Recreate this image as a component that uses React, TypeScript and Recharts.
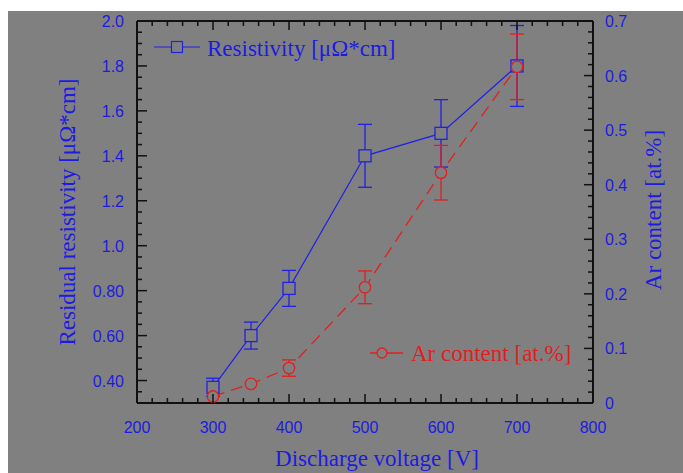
import React from "react"
import { ErrorBar, Line, LineChart, XAxis, YAxis } from "recharts"

// discharge voltage [V]
const voltage = [300, 350, 400, 500, 600, 700]
// residual resistivity [µΩ*cm] and its error
const resistivity = [0.37, 0.6, 0.81, 1.4, 1.5, 1.8]
const resistivityErr = [0.04, 0.06, 0.08, 0.14, 0.15, 0.18]
// Ar content [at.%] and its error
const arContent = [0.012, 0.035, 0.064, 0.212, 0.422, 0.616]
const arContentErr = [0, 0, 0.015, 0.03, 0.05, 0.06]

const xTicks = [
  200, 220, 240, 260, 280, 300, 320, 340, 360, 380, 400, 420, 440, 460, 480, 500, 520, 540, 560,
  580, 600, 620, 640, 660, 680, 700, 720, 740, 760, 780, 800,
]
const xMajor = [200, 300, 400, 500, 600, 700, 800]

const leftTicks = [
  0.3, 0.35, 0.4, 0.45, 0.5, 0.55, 0.6, 0.65, 0.7, 0.75, 0.8, 0.85, 0.9, 0.95, 1.0, 1.05, 1.1, 1.15,
  1.2, 1.25, 1.3, 1.35, 1.4, 1.45, 1.5, 1.55, 1.6, 1.65, 1.7, 1.75, 1.8, 1.85, 1.9, 1.95, 2.0,
]
const leftMajor = [0.4, 0.6, 0.8, 1.0, 1.2, 1.4, 1.6, 1.8, 2.0]
const leftMajorText = ["0.40", "0.60", "0.80", "1.0", "1.2", "1.4", "1.6", "1.8", "2.0"]

const rightTicks = [
  0, 0.02, 0.04, 0.06, 0.08, 0.1, 0.12, 0.14, 0.16, 0.18, 0.2, 0.22, 0.24, 0.26, 0.28, 0.3, 0.32,
  0.34, 0.36, 0.38, 0.4, 0.42, 0.44, 0.46, 0.48, 0.5, 0.52, 0.54, 0.56, 0.58, 0.6, 0.62, 0.64, 0.66,
  0.68, 0.7,
]
const rightMajor = [0, 0.1, 0.2, 0.3, 0.4, 0.5, 0.6, 0.7]
const rightMajorText = ["0", "0.1", "0.2", "0.3", "0.4", "0.5", "0.6", "0.7"]

const rows = voltage.map((v, i) => ({
  v,
  res: resistivity[i],
  resErr: resistivityErr[i],
  ar: arContent[i],
  arErr: arContentErr[i],
}))

const BG = "#808080"
const BLUE = "#2020e6"
const BLUE_TEXT = "#1c1ce0"
const RED = "#e41e1e"
const AXIS = "#111"
const SANS = "'Liberation Sans', Arial, sans-serif"
const SERIF = "'Liberation Serif', 'Times New Roman', serif"

const findIdx = (arr: number[], v: number) => arr.findIndex((a) => Math.abs(a - v) < 1e-6)

const tickText = { fill: BLUE_TEXT, fontFamily: SANS, fontSize: 16 }

function BottomTick({ x, y, payload }: any) {
  const major = findIdx(xMajor, payload.value) >= 0
  return (
    <g>
      <line x1={x} x2={x} y1={y} y2={y - (major ? 9 : 5)} stroke={AXIS} strokeWidth={1.5} />
      {major && (
        <text x={x} y={y + 30} textAnchor="middle" {...tickText}>
          {payload.value}
        </text>
      )}
    </g>
  )
}

function TopTick({ x, y, payload }: any) {
  const major = findIdx(xMajor, payload.value) >= 0
  return <line x1={x} x2={x} y1={y} y2={y + (major ? 9 : 5)} stroke={AXIS} strokeWidth={1.5} />
}

function LeftTick({ x, y, payload }: any) {
  const i = findIdx(leftMajor, payload.value)
  return (
    <g>
      <line x1={x} x2={x + (i >= 0 ? 10 : 5)} y1={y} y2={y} stroke={AXIS} strokeWidth={1.5} />
      {i >= 0 && (
        <text x={x - 13} y={y + 6} textAnchor="end" {...tickText}>
          {leftMajorText[i]}
        </text>
      )}
    </g>
  )
}

function RightTick({ x, y, payload }: any) {
  const i = findIdx(rightMajor, payload.value)
  return (
    <g>
      <line x1={x} x2={x - (i >= 0 ? 9 : 5)} y1={y} y2={y} stroke={AXIS} strokeWidth={1.5} />
      {i >= 0 && (
        <text x={x + 12} y={y + 6} textAnchor="start" {...tickText}>
          {rightMajorText[i]}
        </text>
      )}
    </g>
  )
}

const SquareDot = ({ cx, cy, index }: any) => (
  <rect key={`s${index}`} x={cx - 6} y={cy - 6} width={12} height={12} fill={BG} stroke={BLUE} strokeWidth={1.3} />
)
const CircleDot = ({ cx, cy, index }: any) => (
  <circle key={`c${index}`} cx={cx} cy={cy} r={5.7} fill={BG} stroke={RED} strokeWidth={1.3} />
)

export default function App() {
  const W = 675
  const H = 462
  return (
    <div style={{ position: "absolute", left: 8, top: 11, width: W, height: H, background: BG }}>
      <LineChart width={W} height={H} data={rows} margin={{ top: 9, right: 30, bottom: 29, left: 69 }}>
        <XAxis
          xAxisId="b"
          type="number"
          dataKey="v"
          domain={[200, 800]}
          ticks={xTicks}
          interval={0}
          tickSize={0}
          tickMargin={0}
          tickLine={false}
          tick={<BottomTick />}
          axisLine={{ stroke: AXIS, strokeWidth: 2 }}
          height={41}
          allowDataOverflow
        />
        <XAxis
          xAxisId="t"
          orientation="top"
          type="number"
          dataKey="v"
          domain={[200, 800]}
          ticks={xTicks}
          interval={0}
          tickSize={0}
          tickMargin={0}
          tickLine={false}
          tick={<TopTick />}
          axisLine={{ stroke: AXIS, strokeWidth: 2 }}
          height={1}
          allowDataOverflow
        />
        <YAxis
          yAxisId="l"
          type="number"
          domain={[0.3, 2.0]}
          ticks={leftTicks}
          interval={0}
          tickSize={0}
          tickMargin={0}
          tickLine={false}
          tick={<LeftTick />}
          axisLine={{ stroke: AXIS, strokeWidth: 2 }}
          width={60}
          allowDataOverflow
        />
        <YAxis
          yAxisId="r"
          orientation="right"
          type="number"
          domain={[0, 0.7]}
          ticks={rightTicks}
          interval={0}
          tickSize={0}
          tickMargin={0}
          tickLine={false}
          tick={<RightTick />}
          axisLine={{ stroke: AXIS, strokeWidth: 2 }}
          width={60}
          allowDataOverflow
        />
        <Line
          xAxisId="b"
          yAxisId="l"
          dataKey="res"
          stroke={BLUE}
          strokeWidth={1.2}
          dot={SquareDot}
          activeDot={false}
          isAnimationActive={false}
        >
          <ErrorBar dataKey="resErr" width={7} stroke={BLUE} strokeWidth={1.3} />
        </Line>
        <Line
          xAxisId="b"
          yAxisId="r"
          dataKey="ar"
          stroke={RED}
          strokeWidth={1.3}
          strokeDasharray="12 7"
          dot={CircleDot}
          activeDot={false}
          isAnimationActive={false}
        >
          <ErrorBar dataKey="arErr" width={7} stroke={RED} strokeWidth={1.3} />
        </Line>
      </LineChart>
      <svg width={W} height={H} style={{ position: "absolute", left: 0, top: 0, pointerEvents: "none" }}>
        <text
          transform="translate(59,201) rotate(-90)"
          textAnchor="middle"
          dominantBaseline="central"
          fill={BLUE_TEXT}
          fontFamily={SERIF}
          fontSize={23}
        >
          Residual resistivity [μΩ*cm]
        </text>
        <text
          transform="translate(645,199) rotate(-90)"
          textAnchor="middle"
          dominantBaseline="central"
          fill={BLUE_TEXT}
          fontFamily={SERIF}
          fontSize={23}
        >
          Ar content [at.%]
        </text>
        <text x={369} y={447} textAnchor="middle" dominantBaseline="central" fill={BLUE_TEXT} fontFamily={SERIF} fontSize={23}>
          Discharge voltage [V]
        </text>
        <line x1={146} x2={192} y1={36} y2={36} stroke={BLUE} strokeWidth={1.2} />
        <rect x={163.5} y={30.5} width={11} height={11} fill={BG} stroke={BLUE} strokeWidth={1.2} />
        <text x={199} y={37} dominantBaseline="central" fill={BLUE_TEXT} fontFamily={SERIF} fontSize={23}>
          Resistivity [μΩ*cm]
        </text>
        <line x1={362} x2={395} y1={342} y2={342} stroke={RED} strokeWidth={1.3} />
        <circle cx={374} cy={342} r={5} fill={BG} stroke={RED} strokeWidth={1.3} />
        <text x={403} y={342} dominantBaseline="central" fill={RED} fontFamily={SERIF} fontSize={23}>
          Ar content [at.%]
        </text>
      </svg>
    </div>
  )
}
